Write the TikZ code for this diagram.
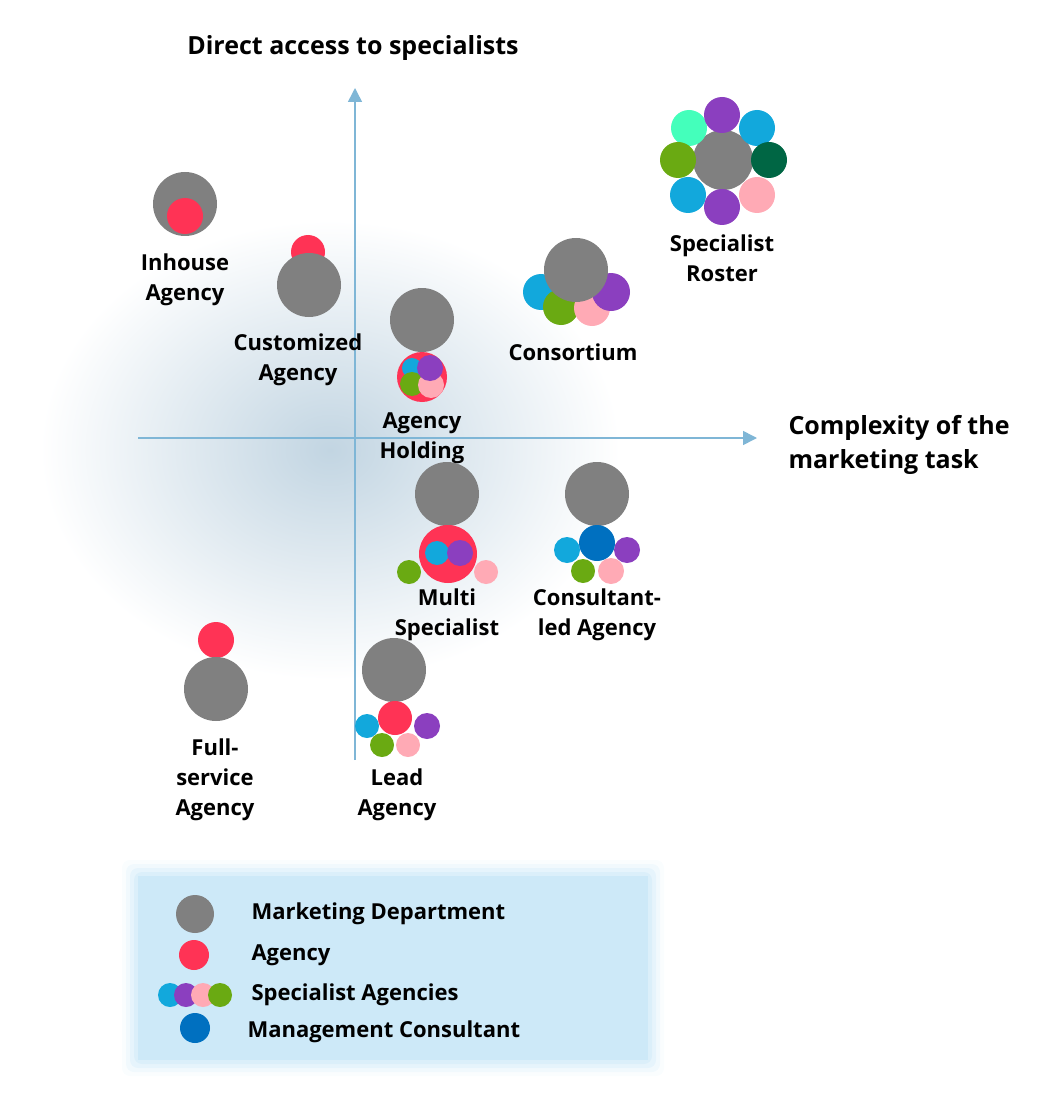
\documentclass[tikz,border=0pt]{standalone}
\usepackage{fontspec}
\setmainfont{Open Sans}
\usetikzlibrary{arrows.meta}
\definecolor{mdgray}{HTML}{808080}
\definecolor{agred}{HTML}{FF3355}
\definecolor{spcyan}{HTML}{12A8DC}
\definecolor{sppurple}{HTML}{8B3FBF}
\definecolor{sppink}{HTML}{FFAAB5}
\definecolor{spgreen}{HTML}{6AAA12}
\definecolor{spmint}{HTML}{44FFBB}
\definecolor{spdark}{HTML}{006644}
\definecolor{mcblue}{HTML}{0070C0}
\definecolor{axisblue}{HTML}{7FB6D6}
\definecolor{legfill}{HTML}{CDE9F8}
\definecolor{glow}{HTML}{C2D5E2}
\tikzset{
  dot/.style={circle,inner sep=0pt,minimum size=2*#1},
  md/.style={dot=32,fill=mdgray},
  lbl/.style={font=\bfseries\fontsize{22}{30}\selectfont,align=center},
  leg/.style={font=\bfseries\fontsize{22}{26}\selectfont,anchor=west},
  axis/.style={draw=axisblue,line width=1.5pt,-{Triangle[length=14pt,width=14pt]}}
}
\begin{document}
\begin{tikzpicture}[x=1pt,y=-1pt]
\useasboundingbox (0,0) rectangle (1062,1099);

%background glow
\shade[inner color=glow,outer color=white] (330,450) ellipse [x radius=290,y radius=230];

%axes
\coordinate (ylo) at (355,760); \coordinate (yhi) at (355,88);
\coordinate (xlo) at (138,438); \coordinate (xhi) at (757,438);
\draw[axis] (ylo) -- (yhi);
\draw[axis] (xlo) -- (xhi);
\node[lbl,font=\bfseries\fontsize{25}{34}\selectfont] (ytitle) at (353,48) {Direct access to specialists};
\node[lbl,font=\bfseries\fontsize{25}{34}\selectfont,align=left,anchor=west] (xtitle) at (785,445) {Complexity of the\\marketing task};

%Inhouse Agency
\node[md] (ih-md) at (185,204) {};
\node[dot=18,fill=agred] (ih-ag) at (185,216) {};
\node[lbl] (ih-lbl) at (185,280) {Inhouse\\Agency};

%Customized Agency
\node[dot=17,fill=agred] (cu-ag) at (308,252) {};
\node[md] (cu-md) at (309,285) {};
\node[lbl] (cu-lbl) at (298,360) {Customized\\Agency};

%Agency Holding
\node[md] (ah-md) at (422,320) {};
\node[dot=25,fill=agred] (ah-ag) at (422,377) {};
\node[dot=10,fill=spcyan] (ah-c) at (412,368) {};
\node[dot=12,fill=spgreen] (ah-g) at (412,384) {};
\node[dot=13,fill=sppink] (ah-p) at (431,385) {};
\node[dot=13,fill=sppurple] (ah-v) at (430,368) {};
\node[lbl] (ah-lbl) at (422,438) {Agency\\Holding};

%Consortium
\node[dot=18,fill=spcyan] (co-c) at (541,292) {};
\node[dot=18,fill=spgreen] (co-g) at (561,307) {};
\node[dot=18,fill=sppink] (co-p) at (592,308) {};
\node[dot=19,fill=sppurple] (co-v) at (611,292) {};
\node[md] (co-md) at (576,270) {};
\node[lbl] (co-lbl) at (573,352) {Consortium};

%Specialist Roster
\node[md,dot=30] (sr-md) at (723,160) {};
\node[dot=18,fill=spmint] (sr-1) at (689,128) {};
\node[dot=18,fill=sppurple] (sr-2) at (722,115) {};
\node[dot=18,fill=spcyan] (sr-3) at (757,128) {};
\node[dot=18,fill=spdark] (sr-4) at (769,160) {};
\node[dot=18,fill=sppink] (sr-5) at (757,195) {};
\node[dot=18,fill=sppurple] (sr-6) at (722,207) {};
\node[dot=18,fill=spcyan] (sr-7) at (688,195) {};
\node[dot=18,fill=spgreen] (sr-8) at (678,160) {};
\node[lbl] (sr-lbl) at (722,258) {Specialist\\Roster};

%Multi Specialist
\node[md] (ms-md) at (447,494) {};
\node[dot=29,fill=agred] (ms-ag) at (448,554) {};
\node[dot=12,fill=spcyan] (ms-c) at (437,553) {};
\node[dot=13,fill=sppurple] (ms-v) at (460,553) {};
\node[dot=12,fill=spgreen] (ms-g) at (409,572) {};
\node[dot=12,fill=sppink] (ms-p) at (486,572) {};
\node[lbl] (ms-lbl) at (447,615) {Multi\\Specialist};

%Consultant-led Agency
\node[md] (cl-md) at (597,494) {};
\node[dot=13,fill=spcyan] (cl-c) at (567,550) {};
\node[dot=12,fill=spgreen] (cl-g) at (583,571) {};
\node[dot=13,fill=sppink] (cl-p) at (611,571) {};
\node[dot=13,fill=sppurple] (cl-v) at (627,550) {};
\node[dot=18,fill=mcblue] (cl-mc) at (597,543) {};
\node[lbl] (cl-lbl) at (597,615) {Consultant-\\led Agency};

%Full-service Agency
\node[dot=18,fill=agred] (fs-ag) at (216,640) {};
\node[md] (fs-md) at (216,689) {};
\node[lbl] (fs-lbl) at (215,780) {Full-\\service\\Agency};

%Lead Agency
\node[md] (la-md) at (394,670) {};
\node[dot=12,fill=spcyan] (la-c) at (367,726) {};
\node[dot=13,fill=sppurple] (la-v) at (427,726) {};
\node[dot=12,fill=spgreen] (la-g) at (382,745) {};
\node[dot=12,fill=sppink] (la-p) at (408,745) {};
\node[dot=17,fill=agred] (la-ag) at (395,718) {};
\node[lbl] (la-lbl) at (397,795) {Lead\\Agency};

%legend
\foreach \w/\o in {16/10,12/20,8/30,4/45}
  \fill[legfill,opacity=0.\o,rounded corners=8pt] (138-\w,876-\w) rectangle (648+\w,1060+\w);
\fill[legfill] (138,876) rectangle (648,1060);
\node[dot=19,fill=mdgray] (lg-md) at (195,914) {};
\node[leg] (lg-mdt) at (248,914) {Marketing Department};
\node[dot=15,fill=agred] (lg-ag) at (194,955) {};
\node[leg] (lg-agt) at (248,955) {Agency};
\node[dot=12,fill=spcyan] (lg-c) at (170,995) {};
\node[dot=12,fill=sppurple] (lg-v) at (186,995) {};
\node[dot=12,fill=sppink] (lg-p) at (203,995) {};
\node[dot=12,fill=spgreen] (lg-g) at (220,995) {};
\node[leg] (lg-spt) at (248,995) {Specialist Agencies};
\node[dot=15,fill=mcblue] (lg-mc) at (195,1028) {};
\node[leg] (lg-mct) at (244,1032) {Management Consultant};
\end{tikzpicture}
\end{document}
